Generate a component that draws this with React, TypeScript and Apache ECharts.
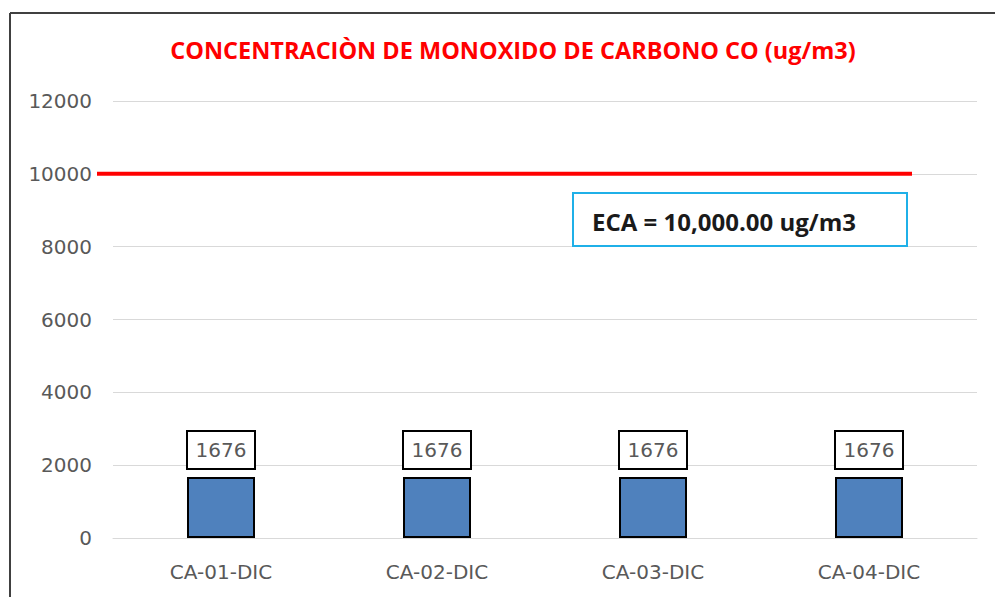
import React, { useEffect, useRef } from "react";
import * as echarts from "echarts";

const categories = ["CA-01-DIC", "CA-02-DIC", "CA-03-DIC", "CA-04-DIC"];
const coValues = [1676, 1676, 1676, 1676];
const ecaLimit = 10000;
const yTicks = [0, 2000, 4000, 6000, 8000, 10000, 12000];
const titleText = "CONCENTRACIÒN DE MONOXIDO DE CARBONO CO (ug/m3)";
const ecaText = "ECA = 10,000.00 ug/m3";

export default function App() {
  const ref = useRef<HTMLDivElement>(null);
  useEffect(() => {
    if (!ref.current) return;
    const chart = echarts.init(ref.current, undefined, { renderer: "svg" });
    const font = "'Open Sans', 'Noto Sans', sans-serif";
    const labelFont = "'DejaVu Sans', sans-serif";
    chart.setOption({
      animation: false,
      backgroundColor: "#ffffff",
      title: {
        text: titleText,
        left: 508,
        textAlign: "center",
        top: 33,
        textStyle: { color: "#ff0000", fontSize: 23.5, fontWeight: "bold", fontFamily: font },
      },
      grid: { left: 113, right: 18, top: 101, bottom: 59, containLabel: false },
      xAxis: {
        type: "category",
        data: categories,
        axisLine: { lineStyle: { color: "#d9d9d9", width: 1 } },
        axisTick: { show: false },
        axisLabel: { color: "#595959", fontSize: 20, fontFamily: labelFont, margin: 24 },
      },
      yAxis: {
        type: "value",
        min: yTicks[0],
        max: yTicks[yTicks.length - 1],
        interval: 2000,
        axisLine: { show: false },
        axisTick: { show: false },
        splitLine: { lineStyle: { color: "#d9d9d9", width: 1 } },
        axisLabel: {
          color: "#595959",
          fontSize: 20,
          fontFamily: labelFont,
          margin: 21,
          formatter: (v: number) => String(v),
        },
      },
      series: [
        {
          type: "bar",
          data: coValues,
          barWidth: 68,
          itemStyle: { color: "#4f81bd", borderColor: "#000000", borderWidth: 2 },
          label: {
            show: true,
            position: "top",
            distance: 9,
            color: "#595959",
            fontSize: 20,
            fontFamily: labelFont,
            backgroundColor: "#ffffff",
            borderColor: "#000000",
            borderWidth: 2,
            width: 66,
            height: 36,
            lineHeight: 36,
            align: "center",
            padding: [0, 0],
          },
        },
      ],
    });
    const yLimit = chart.convertToPixel({ yAxisIndex: 0 }, ecaLimit) as number;
    chart.setOption({
      graphic: [
        {
          type: "line",
          shape: { x1: 97, y1: yLimit, x2: 912, y2: yLimit },
          style: { stroke: "#ff0000", lineWidth: 4 },
          z: 10,
        },
        {
          type: "rect",
          shape: { x: 573, y: 193, width: 334, height: 53 },
          style: { fill: "#ffffff", stroke: "#1fb0e8", lineWidth: 2 },
          z: 10,
        },
        {
          type: "text",
          x: 592,
          y: 221,
          style: {
            text: ecaText,
            fill: "#1a1a1a",
            font: `bold 24px ${font}`,
            textVerticalAlign: "middle",
          },
          z: 11,
        },
        {
          type: "line",
          shape: { x1: 10, y1: 13, x2: 10, y2: 600 },
          style: { stroke: "#404040", lineWidth: 2 },
        },
        {
          type: "line",
          shape: { x1: 10, y1: 13, x2: 1000, y2: 13 },
          style: { stroke: "#404040", lineWidth: 2 },
        },
      ],
    });
    return () => chart.dispose();
  }, []);
  return (
    <div style={{ position: "absolute", left: 0, top: 0, width: 995, height: 597 }}>
      <div ref={ref} style={{ width: 995, height: 597 }} />
    </div>
  );
}
